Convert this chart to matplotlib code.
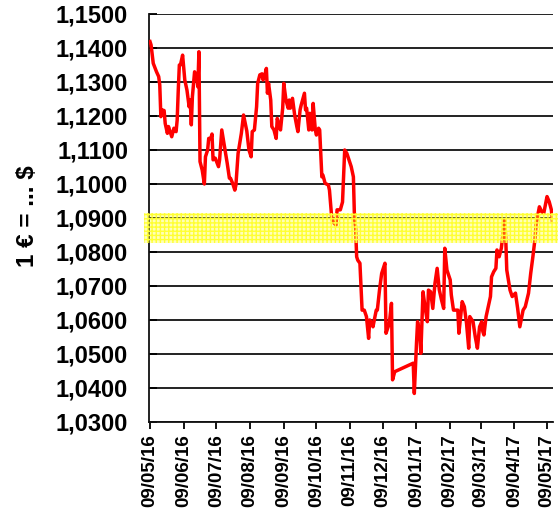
import numpy as np
import pandas as pd
import matplotlib
matplotlib.use("Agg")
import matplotlib.pyplot as plt
import matplotlib.dates as mdates
from matplotlib.ticker import FuncFormatter, MultipleLocator

# ---------------------------------------------------------------
# Datos (dias desde 09/05/16, 1 EUR = ... USD)
# ---------------------------------------------------------------
start = pd.Timestamp("2016-05-09")

days = [0, 1, 3, 6, 8, 9, 10, 11, 13, 14, 16, 17, 20, 22, 24, 25, 26, 27, 28, 30,
        32, 34, 36, 37, 38, 39, 41, 43, 44, 45, 46, 48, 50, 51, 53, 54, 56, 57, 58, 60,
        63, 64, 66, 68, 71, 73, 74, 76, 78, 79, 81, 84, 86, 89, 91, 93, 94, 96, 98, 99,
        101, 103, 104, 106, 107, 108, 109, 111, 112, 114, 116, 117, 119, 120, 122, 123, 125, 127, 128, 129,
        131, 133, 135, 136, 138, 139, 142, 143, 144, 146, 147, 149, 150, 152, 153, 155, 156, 158, 159, 161,
        164, 165, 167, 168, 171, 172, 175, 177, 179, 181, 185, 187, 188, 189, 190, 191, 193, 195, 197, 199,
        201, 202, 204, 205, 208, 209, 211, 213, 214, 216, 217, 218, 220, 222, 223, 225, 242, 243, 245, 246,
        248, 249, 251, 253, 255, 256, 258, 260, 262, 264, 266, 268, 270, 271, 273, 276, 277, 279, 283, 284,
        287, 289, 291, 293, 294, 297, 299, 301, 303, 305, 306, 307, 309, 311, 313, 314, 316, 318, 319, 321,
        323, 326, 327, 328, 331, 333, 336, 338, 340, 343, 345, 348, 350, 352, 354, 355, 358, 360, 362, 365,
        367, 369, 370]

rate = [1.1419, 1.1409, 1.1355, 1.1330, 1.1316, 1.1291, 1.1198, 1.1218, 1.1216, 1.1178,
        1.1149, 1.1169, 1.1139, 1.1164, 1.1154, 1.1188, 1.1276, 1.1350, 1.1350, 1.1379,
        1.1306, 1.1276, 1.1227, 1.1247, 1.1174, 1.1257, 1.1330, 1.1316, 1.1286, 1.1389,
        1.1066, 1.1041, 1.1000, 1.1080, 1.1100, 1.1134, 1.1134, 1.1147, 1.1071, 1.1076,
        1.1051, 1.1071, 1.1159, 1.1120, 1.1061, 1.1017, 1.1017, 1.1002, 1.0982, 1.0997,
        1.1090, 1.1149, 1.1203, 1.1156, 1.1100, 1.1080, 1.1154, 1.1159, 1.1227, 1.1296,
        1.1321, 1.1324, 1.1306, 1.1326, 1.1340, 1.1267, 1.1296, 1.1247, 1.1169, 1.1159,
        1.1134, 1.1193, 1.1169, 1.1159, 1.1223, 1.1296, 1.1247, 1.1223, 1.1247, 1.1223,
        1.1252, 1.1203, 1.1169, 1.1154, 1.1218, 1.1232, 1.1267, 1.1218, 1.1223, 1.1159,
        1.1208, 1.1159, 1.1237, 1.1159, 1.1144, 1.1164, 1.1159, 1.1021, 1.1026, 1.1002,
        1.0997, 1.0982, 1.0904, 1.0889, 1.0879, 1.0924, 1.0924, 1.0947, 1.1100, 1.1090,
        1.1051, 1.1021, 1.0899, 1.0874, 1.0786, 1.0776, 1.0767, 1.0629, 1.0629, 1.0610,
        1.0546, 1.0600, 1.0590, 1.0580, 1.0629, 1.0629, 1.0688, 1.0737, 1.0747, 1.0767,
        1.0561, 1.0571, 1.0590, 1.0649, 1.0424, 1.0448, 1.0473, 1.0384, 1.0531, 1.0595,
        1.0561, 1.0502, 1.0683, 1.0635, 1.0595, 1.0688, 1.0683, 1.0634, 1.0708, 1.0752,
        1.0688, 1.0659, 1.0634, 1.0811, 1.0747, 1.0718, 1.0674, 1.0629, 1.0629, 1.0561,
        1.0654, 1.0639, 1.0590, 1.0517, 1.0610, 1.0595, 1.0551, 1.0517, 1.0580, 1.0595,
        1.0566, 1.0556, 1.0610, 1.0639, 1.0669, 1.0727, 1.0742, 1.0752, 1.0806, 1.0786,
        1.0811, 1.0894, 1.0845, 1.0747, 1.0688, 1.0669, 1.0679, 1.0634, 1.0580, 1.0629,
        1.0639, 1.0679, 1.0737, 1.0786, 1.0840, 1.0884, 1.0933, 1.0919, 1.0914, 1.0963,
        1.0948, 1.0924, 1.0889]

# banda amarilla (zona de referencia)
band_lo, band_hi = 1.0827, 1.0916

dates = start + pd.to_timedelta(days, unit="D")

plt.rcParams["font.family"] = ["Liberation Sans", "DejaVu Sans"]
plt.rcParams["font.weight"] = "bold"
plt.rcParams["hatch.linewidth"] = 1.0

fig = plt.figure(figsize=(5.59, 5.18), dpi=100)
ax = fig.add_axes([149 / 559, 1 - 422 / 518, 404 / 559, 408 / 518])

ax.plot(dates, rate, color="#ff0000", linewidth=2.5, zorder=3)

ax.axhspan(band_lo, band_hi, xmin=-0.012, xmax=1.012, facecolor=(1, 1, 0.2, 0.35),
           edgecolor="#ffff33", hatch="++++", linewidth=0, zorder=4, clip_on=False)

ax.set_ylim(1.03, 1.15)
ax.set_xlim(start - pd.Timedelta(days=0.9), start + pd.Timedelta(days=370.5))

ax.yaxis.set_major_locator(MultipleLocator(0.01))
ax.yaxis.set_major_formatter(FuncFormatter(lambda v, p: f"{v:.4f}".replace(".", ",")))
ax.xaxis.set_major_locator(mdates.MonthLocator(bymonthday=9))
ax.xaxis.set_major_formatter(mdates.DateFormatter("%d/%m/%y"))

ax.grid(axis="y", color="#111111", linewidth=1.3)
ax.set_axisbelow(True)

for s in ["top", "right"]:
    ax.spines[s].set_visible(False)
for s in ["left", "bottom"]:
    ax.spines[s].set_linewidth(1.3)
    ax.spines[s].set_color("#111111")

ax.tick_params(axis="y", direction="in", length=6, width=1.3, pad=15, labelsize=17)
ax.tick_params(axis="x", direction="out", length=5, width=1.3, pad=4, labelsize=13.5)
for lab in ax.get_yticklabels():
    lab.set_fontweight("bold")
for lab in ax.get_xticklabels():
    lab.set_rotation(90)
    lab.set_fontweight("bold")
    lab.set_ha("center")

fig.text(27 / 559, 1 - 216 / 518, "1 € = ... $", rotation=90, ha="center", va="center",
         fontsize=17.5, fontweight="bold")

fig.savefig("out.png", dpi=100)
